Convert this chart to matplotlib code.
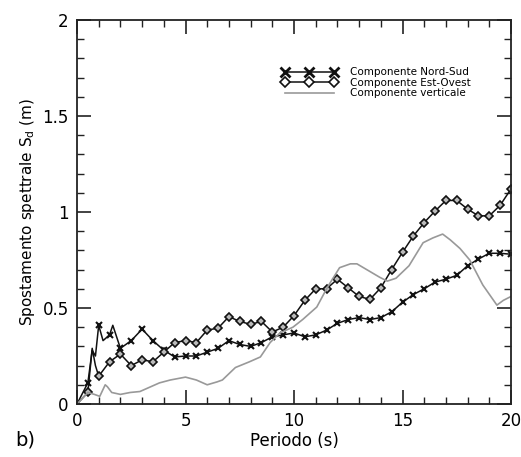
import matplotlib
matplotlib.use('Agg')
import matplotlib.ticker
import numpy as np
from matplotlib import pyplot as plt

# Nord-Sud component (x markers every 0.5 s)
ns_t = [0.0, 0.5, 0.7, 0.85, 1.0, 1.2, 1.5, 1.65, 2.0, 2.5, 3.0, 3.5, 4.0, 4.5, 5.0,
        5.5, 6.0, 6.5, 7.0, 7.5, 8.0, 8.5, 9.0, 9.5, 10.0, 10.5, 11.0, 11.5, 12.0,
        12.5, 13.0, 13.5, 14.0, 14.5, 15.0, 15.5, 16.0, 16.5, 17.0, 17.5, 18.0,
        18.5, 19.0, 19.5, 20.0]
ns_sd = [0.0, 0.11, 0.28, 0.25, 0.41, 0.33, 0.36, 0.41, 0.29, 0.33, 0.39, 0.33, 0.28, 0.245,
         0.25, 0.25, 0.27, 0.29, 0.33, 0.31, 0.30, 0.32, 0.35, 0.36, 0.37, 0.35, 0.36,
         0.385, 0.42, 0.44, 0.45, 0.44, 0.45, 0.48, 0.53, 0.57, 0.60, 0.635, 0.65,
         0.67, 0.72, 0.755, 0.785, 0.785, 0.78]

# Est-Ovest component (diamond markers every 0.5 s)
eo_t = [0.0, 0.5, 0.7, 0.85, 1.0, 1.5, 2.0, 2.5, 3.0, 3.5, 4.0, 4.5, 5.0, 5.5, 6.0,
        6.5, 7.0, 7.5, 8.0, 8.5, 9.0, 9.5, 10.0, 10.5, 11.0, 11.5, 12.0, 12.5, 13.0,
        13.5, 14.0, 14.5, 15.0, 15.5, 16.0, 16.5, 17.0, 17.5, 18.0, 18.5, 19.0,
        19.5, 20.0]
eo_sd = [0.0, 0.06, 0.29, 0.2, 0.145, 0.22, 0.26, 0.20, 0.23, 0.22, 0.27, 0.32, 0.33,
         0.32, 0.385, 0.395, 0.455, 0.43, 0.415, 0.43, 0.375, 0.40, 0.46, 0.54, 0.60,
         0.60, 0.65, 0.605, 0.56, 0.545, 0.605, 0.70, 0.79, 0.875, 0.945, 1.005,
         1.06, 1.06, 1.015, 0.98, 0.98, 1.035, 1.12]

# vertical component
v_t = [0.0, 0.5, 0.8, 1.05, 1.3, 1.4, 1.6, 2.0, 2.45, 2.9, 3.4, 3.8, 4.3, 5.0, 5.5,
       6.0, 6.45, 6.7, 7.3, 7.95, 8.45, 8.9, 9.35, 9.95, 10.4, 11.05, 11.55, 12.1,
       12.6, 12.9, 13.5, 13.95, 14.3, 14.7, 15.3, 15.95, 16.4, 16.85, 17.2, 17.65,
       18.1, 18.7, 19.35, 19.65, 20.0]
v_sd = [0.0, 0.06, 0.05, 0.04, 0.10, 0.09, 0.06, 0.05, 0.06, 0.065, 0.09, 0.11, 0.125,
        0.14, 0.125, 0.10, 0.115, 0.125, 0.19, 0.22, 0.245, 0.32, 0.37, 0.40, 0.44,
        0.505, 0.61, 0.71, 0.73, 0.73, 0.69, 0.66, 0.64, 0.655, 0.72, 0.84, 0.865,
        0.885, 0.855, 0.81, 0.75, 0.62, 0.515, 0.54, 0.56]

ns_marks = [i for i, t in enumerate(ns_t) if (t * 2) % 1 == 0 and t > 0]
eo_marks = [i for i, t in enumerate(eo_t) if (t * 2) % 1 == 0 and t > 0]

fig = plt.figure(figsize=(5.21, 4.57), dpi=100)
ax = fig.add_axes([77 / 521, 1 - 404 / 457, 434 / 521, 384 / 457])

ax.plot(ns_t, ns_sd, color='#111111', lw=1.1, marker='x', markersize=5,
        markeredgewidth=1.5, markevery=ns_marks, label='Componente Nord-Sud')
ax.plot(eo_t, eo_sd, color='#111111', lw=1.1, marker='D', markersize=3.8,
        markeredgewidth=1.2, markerfacecolor='#bbbbbb', markeredgecolor='#111111',
        markevery=eo_marks, label='Componente Est-Ovest')
ax.plot(v_t, v_sd, color='#999999', lw=1.2, label='Componente verticale')

ax.set_xlim(0, 20)
ax.set_ylim(0, 2)
ax.xaxis.set_major_locator(matplotlib.ticker.MultipleLocator(5))
ax.xaxis.set_minor_locator(matplotlib.ticker.MultipleLocator(1))
ax.yaxis.set_major_locator(matplotlib.ticker.MultipleLocator(0.5))
ax.yaxis.set_minor_locator(matplotlib.ticker.MultipleLocator(0.1))
ax.yaxis.set_major_formatter(matplotlib.ticker.FuncFormatter(lambda v, _: f'{v:g}'))
ax.tick_params(which='both', direction='in', top=True, right=True, labelsize=12, color='#222222')
ax.tick_params(which='major', length=10, width=1.2, pad=6)
ax.tick_params(which='minor', length=5, width=1)
for s in ax.spines.values():
	s.set_linewidth(1.3)
	s.set_color('#222222')

ax.set_xlabel('Periodo (s)', fontsize=12, labelpad=1)
ax.set_ylabel('Spostamento spettrale S$_\\mathregular{d}$ (m)', fontsize=11, labelpad=4)

leg = ax.legend(loc='upper left', bbox_to_anchor=(0.46, 0.89), frameon=False, fontsize=7.5,
                numpoints=3, handlelength=5.3, labelspacing=0.05, borderpad=0,
                handletextpad=1.2, markerscale=1.4)
leg.get_lines()[0].set_markeredgewidth(2)
leg.get_lines()[1].set_markerfacecolor('white')

fig.text(15 / 521, 1 - 440 / 457, 'b)', fontsize=14, va='center', ha='left')

plt.savefig('out.png', dpi=100)
